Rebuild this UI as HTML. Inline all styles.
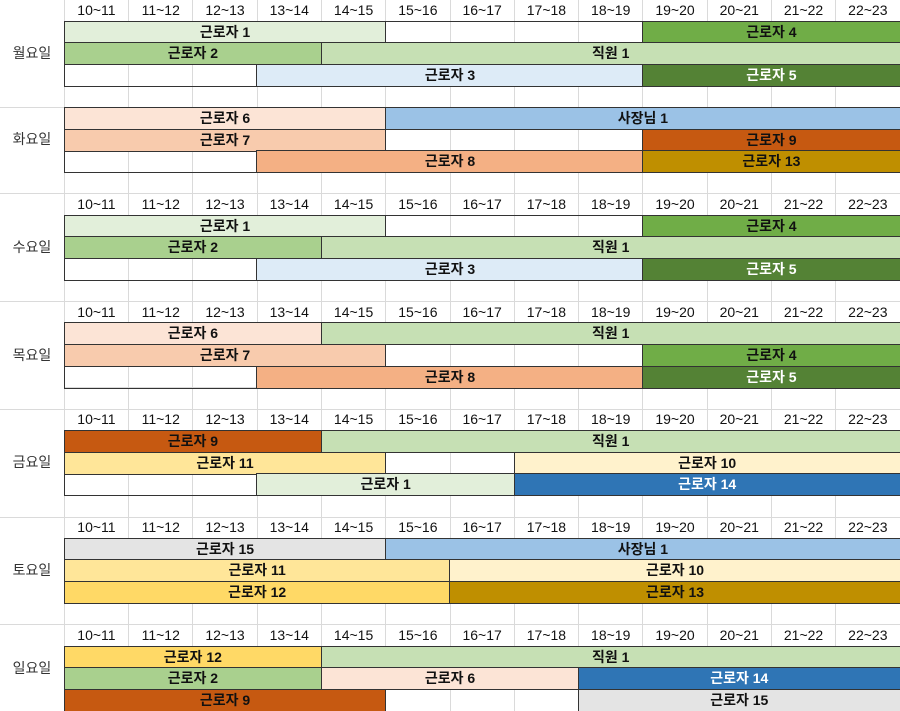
<!DOCTYPE html>
<html><head><meta charset="utf-8">
<style>
html,body{margin:0;padding:0;background:#fff;}
#sheet{position:relative;width:900px;height:711px;overflow:hidden;font-family:"Liberation Sans","Noto Sans CJK KR",sans-serif;}
.gl{position:absolute;background:#dadada;}
.hd{position:absolute;font-size:14px;color:#111;text-align:center;line-height:21px;}
.day{position:absolute;left:0;width:64px;font-size:14px;color:#333;text-align:center;}
.bar{position:absolute;box-sizing:border-box;border:1.5px solid #333;font-size:14px;font-weight:bold;text-align:center;color:#111;line-height:18px;white-space:nowrap;}
</style></head>
<body>
<div id="sheet"></div>
<script>
const hours = ["10~11","11~12","12~13","13~14","14~15","15~16","16~17","17~18","18~19","19~20","20~21","21~22","22~23"];
const days = ["월요일","화요일","수요일","목요일","금요일","토요일","일요일"];
const dayBlockStart = [0,4,9,14,19,24,29];
const dayBlockEnd = [4,8,13,18,23,28,32];
const headerRows = [0,null,9,14,19,24,29];
const firstBarRow = [1,5,10,15,20,25,30];
const colors = {"근로자 1":"#E2EFDA","근로자 2":"#A9D08E","직원 1":"#C6E0B4","근로자 3":"#DDEBF7","근로자 4":"#70AD47","근로자 5":"#548235","근로자 6":"#FCE4D6","근로자 7":"#F8CBAD","근로자 8":"#F4B084","사장님 1":"#9BC2E6","근로자 9":"#C65911","근로자 13":"#BF8F00","근로자 11":"#FFE699","근로자 10":"#FFF2CC","근로자 14":"#2F75B5","근로자 15":"#E4E4E4","근로자 12":"#FFD966"};
const whiteText = ["근로자 5","근로자 14"];
const shifts = [
[0,0,"근로자 1",10,15],[0,0,"근로자 4",19,23],
[0,1,"근로자 2",10,14],[0,1,"직원 1",14,23],
[0,2,"근로자 3",13,19],[0,2,"근로자 5",19,23],
[1,0,"근로자 6",10,15],[1,0,"사장님 1",15,23],
[1,1,"근로자 7",10,15],[1,1,"근로자 9",19,23],
[1,2,"근로자 8",13,19],[1,2,"근로자 13",19,23],
[2,0,"근로자 1",10,15],[2,0,"근로자 4",19,23],
[2,1,"근로자 2",10,14],[2,1,"직원 1",14,23],
[2,2,"근로자 3",13,19],[2,2,"근로자 5",19,23],
[3,0,"근로자 6",10,14],[3,0,"직원 1",14,23],
[3,1,"근로자 7",10,15],[3,1,"근로자 4",19,23],
[3,2,"근로자 8",13,19],[3,2,"근로자 5",19,23],
[4,0,"근로자 9",10,14],[4,0,"직원 1",14,23],
[4,1,"근로자 11",10,15],[4,1,"근로자 10",17,23],
[4,2,"근로자 1",13,17],[4,2,"근로자 14",17,23],
[5,0,"근로자 15",10,15],[5,0,"사장님 1",15,23],
[5,1,"근로자 11",10,16],[5,1,"근로자 10",16,23],
[5,2,"근로자 12",10,16],[5,2,"근로자 13",16,23],
[6,0,"근로자 12",10,14],[6,0,"직원 1",14,23],
[6,1,"근로자 2",10,14],[6,1,"근로자 6",14,18],[6,1,"근로자 14",18,23],
[6,2,"근로자 9",10,15],[6,2,"근로자 15",18,23]
];

const S = document.getElementById('sheet');
const RH = 711/33, X0 = 64.3, CW = (900-64.3)/13;
const xOf = h => X0 + (h-10)*CW;
const yOf = r => r*RH;
function add(cls, st){const d=document.createElement('div');d.className=cls;Object.assign(d.style,st);S.appendChild(d);return d;}

for(let i=0;i<=13;i++){
  const g=add('gl',{left:(X0+i*CW-0.5)+'px',top:'0',width:'1px',height:'711px'});
  
  
}
for(let r=1;r<=33;r++){
  const full = dayBlockEnd.some(e=>e+1===r);
  const g=add('gl',{left:(full?0:X0)+'px',top:(yOf(r)-0.5)+'px',width:(full?900:900-X0)+'px',height:'1px'});
  
  
}
days.forEach((d,i)=>{
  const y0=yOf(dayBlockStart[i]), y1=yOf(dayBlockEnd[i]+1);
  const el=add('day',{top:y0+'px',height:(y1-y0)+'px',lineHeight:(y1-y0)+'px'});
  el.textContent=d;
  
  
});
headerRows.forEach(r=>{
  if(r===null) return;
  hours.forEach((h,i)=>{
    const el=add('hd',{left:(X0+i*CW)+'px',width:CW+'px',top:yOf(r)+'px',height:RH+'px'});
    el.textContent=h;
    
    
  });
});
firstBarRow.forEach(fr=>{
  for(let k=0;k<3;k++){
    const y=yOf(fr+k);
    const el=add('bar',{left:(X0-0.75)+'px',top:(y-0.75)+'px',width:(900-X0+2)+'px',height:(RH+1.5)+'px',background:'transparent'});
    
    
  }
});
shifts.forEach(s=>{
  const [di,ri,name,a,b]=s;
  const y=yOf(firstBarRow[di]+ri);
  const x1=xOf(a), x2=Math.min(xOf(b),901);
  const el=add('bar',{left:(x1-0.75)+'px',top:(y-0.75)+'px',width:(x2-x1+1.5)+'px',height:(RH+1.5)+'px',background:colors[name],color:whiteText.includes(name)?'#fff':'#111',lineHeight:(RH-1.5)+'px'});
  el.textContent=name;
  
  
});
</script>
</body></html>
